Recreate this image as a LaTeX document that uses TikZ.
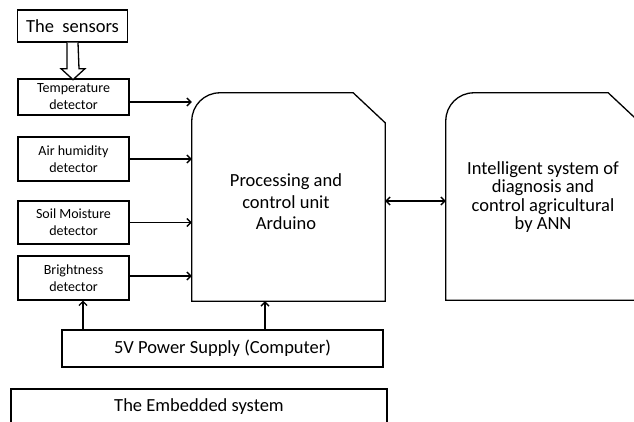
\documentclass[tikz,border=0pt]{standalone}
\usepackage{fontspec}
\setmainfont{Carlito}
\usetikzlibrary{arrows.meta,calc}
\begin{document}
\begin{tikzpicture}[x=1pt,y=-1pt,
  lw/.style={line width=1.3pt},
  box/.style={draw, lw, inner sep=0pt, align=center},
  det/.style={box, minimum width=111pt, font=\fontsize{14}{17}\selectfont},
  big/.style={font=\fontsize{18.5}{21.5}\selectfont, align=center},
  arr/.style={lw, -{Straight Barb[length=4pt,width=8pt]}},
  darr/.style={lw, {Straight Barb[length=4pt,width=8pt]}-{Straight Barb[length=4pt,width=8pt]}},
]
\useasboundingbox (0,0) rectangle (634,421);
\clip (0,0) rectangle (634,421);

% sensors
\node[box, big, minimum width=110pt, minimum height=32pt] (sensors) at (72.5,26) {The\ \ sensors};

% detectors
\node[det, minimum height=36pt] (temp) at (73.5,97) {Temperature\\detector};
\node[det, minimum height=44pt] (air) at (73.5,159) {Air humidity\\detector};
\node[det, minimum height=43pt] (soil) at (73.5,222.5) {Soil Moisture\\detector};
\node[det, minimum height=44pt] (bright) at (73.5,278) {Brightness\\detector};

% hollow arrow
\draw[lw, fill=white] ($(sensors.south)+(-5.5,0)$) -- ++(0,26) -- ++(-6,0)
  -- ($(sensors.south)+(0.5,37)$) -- ($(sensors.south)+(12.5,26)$) -- ++(-6,0)
  -- ($(sensors.south)+(5.5,0)$);

% processing unit
\node[minimum width=193pt, minimum height=208pt, inner sep=0pt] (proc) at (288.5,197) {};
\draw[lw] (proc.south west) -- ($(proc.north west)+(0,28)$)
  .. controls ($(proc.north west)+(0,12.5)$) and ($(proc.north west)+(12.5,0)$) .. ($(proc.north west)+(28,0)$)
  -- ($(proc.north east)+(-32,0)$) -- ($(proc.north east)+(0,30)$)
  -- (proc.south east) -- cycle;
\node[big] (proclabel) at (286,202) {Processing and\\control unit\\Arduino};

% intelligent system
\node[minimum width=194pt, minimum height=207pt, inner sep=0pt] (intel) at (543,196.5) {};
\draw[lw] (intel.south west) -- ($(intel.north west)+(0,28)$)
  .. controls ($(intel.north west)+(0,12.5)$) and ($(intel.north west)+(12.5,0)$) .. ($(intel.north west)+(28,0)$)
  -- ($(intel.north east)+(-32,0)$) -- ($(intel.north east)+(0,30)$)
  -- (intel.south east) -- cycle;
\node[font=\fontsize{18.5}{18.5}\selectfont, align=center] (intellabel) at (543,197) {Intelligent system of\\diagnosis and\\control agricultural\\by ANN};

% power supply
\node[box, big, minimum width=321pt, minimum height=37pt] (power) at (222.5,348.5) {5V Power Supply (Computer)};

% embedded system
\node[box, big, minimum width=376pt, minimum height=36pt] (emb) at (199,407) {The Embedded system};

% connectors
\coordinate (ty) at (0,102);
\draw[arr] (temp.east |- ty) -- (proc.west |- ty);
\draw[arr] (air.east) -- (air.east -| proc.west);
\draw[arr] (soil.east) -- (soil.east -| proc.west);
\coordinate (by) at (0,276);
\draw[arr] (bright.east |- by) -- (proc.west |- by);
\coordinate (dy) at (0,201);
\draw[darr] (proc.east |- dy) -- (intel.west |- dy);
\coordinate (px) at (265,0);
\draw[arr] (power.north -| px) -- (proc.south -| px);
\coordinate (bx) at (83,0);
\draw[arr] (power.north -| bx) -- (bright.south -| bx);
\end{tikzpicture}
\end{document}
